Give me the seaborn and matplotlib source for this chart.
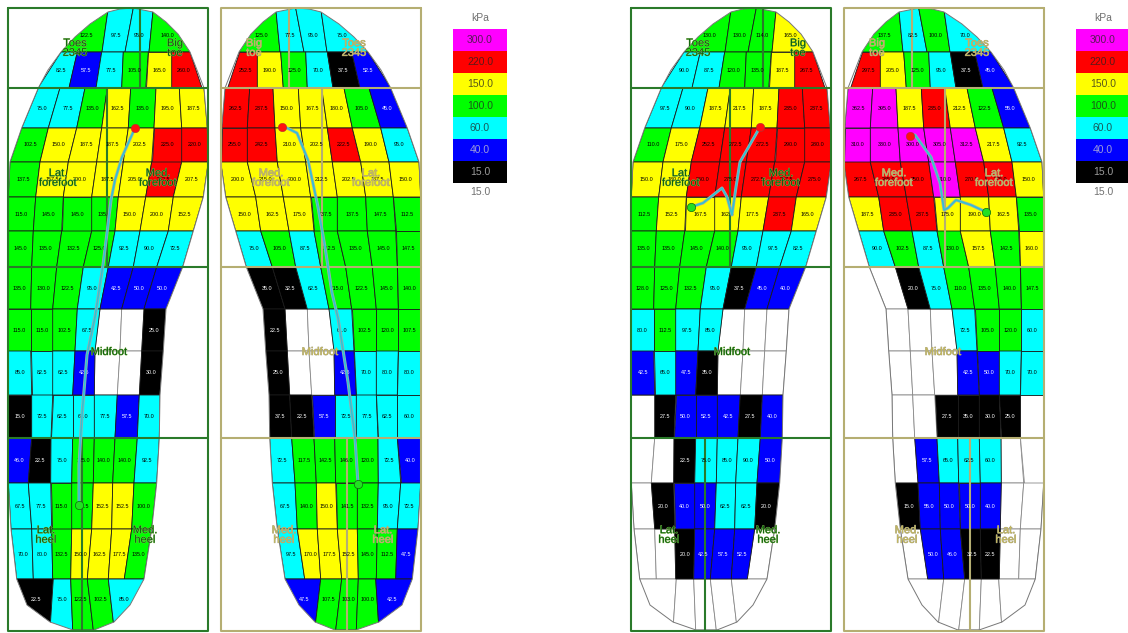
import numpy as np
import seaborn as sns
import matplotlib.pyplot as plt
import matplotlib.patheffects as pe
from matplotlib.colors import ListedColormap, BoundaryNorm
from matplotlib.patches import Polygon

nan = float('nan')

# pressure per sensor cell, top to bottom, left to right as seen in the picture
foot1_values = [
    [122.5, 97.5, 95.0, 140.0],
    [82.5, 57.5, 77.5, 105.0, 165.0, 260.0],
    [75.0, 77.5, 135.0, 162.5, 135.0, 195.0, 187.5],
    [102.5, 150.0, 187.5, 187.5, 202.5, 225.0, 220.0],
    [137.5, 157.5, 200.0, 187.5, 205.0, 232.5, 207.5],
    [115.0, 145.0, 145.0, 135.0, 150.0, 200.0, 152.5],
    [145.0, 135.0, 132.5, 125.0, 92.5, 90.0, 72.5],
    [135.0, 130.0, 122.5, 95.0, 42.5, 50.0, 50.0],
    [115.0, 115.0, 102.5, 67.5, nan, nan, 25.0],
    [85.0, 82.5, 62.5, 42.5, nan, nan, 30.0],
    [15.0, 72.5, 62.5, 61.0, 77.5, 57.5, 70.0],
    [46.0, 22.5, 75.0, 125.0, 140.0, 140.0, 92.5],
    [67.5, 77.5, 115.0, 122.5, 152.5, 152.5, 100.0],
    [70.0, 80.0, 132.5, 150.0, 162.5, 177.5, 135.0],
    [22.5, 75.0, 122.5, 102.5, 85.0],
]
foot2_values = [
    [125.0, 77.5, 95.0, 75.0],
    [252.5, 190.0, 125.0, 70.0, 37.5, 52.5],
    [262.5, 237.5, 150.0, 167.5, 180.0, 105.0, 45.0],
    [255.0, 242.5, 210.0, 202.5, 222.5, 190.0, 95.0],
    [200.0, 215.0, 200.0, 212.5, 202.5, 187.5, 150.0],
    [150.0, 162.5, 175.0, 137.5, 137.5, 147.5, 112.5],
    [75.0, 105.0, 87.5, 112.5, 135.0, 145.0, 147.5],
    [35.0, 32.5, 62.5, 115.0, 122.5, 145.0, 140.0],
    [22.5, nan, nan, 61.0, 102.5, 120.0, 107.5],
    [25.0, nan, nan, 42.5, 70.0, 80.0, 80.0],
    [37.5, 22.5, 57.5, 72.5, 77.5, 62.5, 60.0],
    [72.5, 117.5, 142.5, 146.0, 120.0, 72.5, 40.0],
    [67.5, 140.0, 150.0, 141.5, 132.5, 95.0, 72.5],
    [97.5, 170.0, 177.5, 152.5, 145.0, 112.5, 47.5],
    [47.5, 107.5, 103.0, 100.0, 42.5],
]
foot3_values = [
    [130.0, 130.0, 114.0, 165.0],
    [90.0, 87.5, 120.0, 135.0, 187.5, 267.5],
    [97.5, 90.0, 187.5, 217.5, 187.5, 235.0, 237.5],
    [110.0, 175.0, 252.5, 272.5, 272.5, 290.0, 280.0],
    [150.0, 180.0, 260.0, 275.0, 272.5, 257.5, 275.0],
    [112.5, 152.5, 167.5, 162.5, 177.5, 237.5, 165.0],
    [135.0, 135.0, 145.0, 140.0, 95.0, 97.5, 82.5],
    [128.0, 125.0, 132.5, 95.0, 37.5, 45.0, 40.0],
    [80.0, 112.5, 97.5, 85.0, nan, nan, nan],
    [42.5, 65.0, 47.5, 35.0, nan, nan, nan],
    [nan, 27.5, 50.0, 52.5, 42.5, 27.5, 40.0],
    [nan, nan, 22.5, 75.0, 85.0, 90.0, 50.0],
    [nan, 20.0, 40.0, 50.0, 62.5, 62.5, 20.0],
    [nan, nan, 20.0, 42.5, 57.5, 52.5, nan],
    [nan, nan, nan, nan, nan],
]
foot4_values = [
    [137.5, 82.5, 100.0, 70.0],
    [297.5, 205.0, 125.0, 95.0, 37.5, 45.0],
    [362.5, 395.0, 187.5, 235.0, 212.5, 122.5, 55.0],
    [310.0, 330.0, 300.0, 305.0, 312.5, 217.5, 92.5],
    [267.5, 285.0, 250.0, 310.0, 270.0, 275.0, 150.0],
    [187.5, 235.0, 237.5, 175.0, 190.0, 162.5, 135.0],
    [90.0, 102.5, 87.5, 130.0, 157.5, 142.5, 160.0],
    [nan, 20.0, 75.0, 110.0, 135.0, 140.0, 147.5],
    [nan, nan, nan, 72.5, 105.0, 120.0, 60.0],
    [nan, nan, nan, 42.5, 50.0, 70.0, 70.0],
    [nan, nan, 27.5, 35.0, 30.0, 25.0, nan],
    [nan, 57.5, 65.0, 62.5, 60.0, nan, nan],
    [15.0, 55.0, 50.0, 50.0, 40.0, nan, nan],
    [nan, 50.0, 46.0, 32.5, 22.5, nan, nan],
    [nan, nan, nan, nan, nan],
]

# centre of pressure paths, image pixels
cop1_x = [135, 122, 115, 111, 107, 103, 95, 87, 82, 79, 79]
cop1_y = [128, 157, 180, 200, 233, 265, 317, 355, 415, 465, 505]
cop2_x = [282, 287, 297, 308, 318, 325, 332, 338, 348, 355, 358]
cop2_y = [127, 128, 133, 160, 207, 247, 293, 318, 382, 438, 484]
cop3_x = [760, 740, 736, 732, 727, 722, 703, 691]
cop3_y = [127, 162, 187, 215, 197, 188, 203, 207]
cop4_x = [910, 915, 931, 940, 944, 948, 956, 971, 986]
cop4_y = [136, 135, 157, 183, 210, 208, 200, 205, 212]

legend_levels = [300.0, 220.0, 150.0, 100.0, 60.0, 40.0, 15.0]
level_bounds = [15, 40, 60, 100, 150, 220, 300, 1000]
level_colors = ['#000000', '#0000ff', '#00ffff', '#00ff00', '#ffff00', '#ff0000', '#ff00ff']

# insole mesh, drawn for the left panel and mirrored for the right one
row_y = [8, 52, 88, 128, 162, 197, 231, 267, 309, 351, 395, 438, 483, 529, 579, 630]
toe_top_edges = [82.3, 108.3, 133.3, 153.3, 174.3]
toe_mid_edges = [61, 102, 125, 149, 190]
toe2_top_edges = [61, 77.3, 101.7, 123.3, 148.3, 171.7, 190]
toe2_bot_edges = [38, 69, 96, 121.7, 145.7, 171.7, 202]
mesh_edges = [
    [38.3, 60, 85, 107.3, 130.7, 156, 179.3, 204],
    [21.7, 48.3, 76.7, 101.7, 128.3, 154, 181.7, 207.3],
    [10, 40, 68.3, 96.7, 123.3, 151.7, 181.7, 208.3],
    [8.3, 35.7, 63.3, 91.7, 118.3, 145.7, 173.3, 203.3],
    [8.3, 33.3, 61.7, 91.7, 115, 140, 168.3, 193.3],
    [8.3, 31.7, 56.7, 83.3, 108.3, 133.3, 156.7, 182.7],
    [8.3, 30.7, 52.7, 77.3, 100, 121.7, 144, 166],
    [8.3, 30.7, 52.7, 75, 95, 120, 141.7, 163.3],
    [8.3, 31.7, 52.7, 72.7, 94.3, 117.3, 139.3, 160],
    [8.3, 31.7, 51, 72.7, 94.3, 115, 137.3, 159.3],
    [8.3, 28.3, 50.7, 71.7, 93.3, 112.7, 134, 156.7],
    [11, 31.7, 51.7, 71.7, 91.7, 111.7, 131.7, 151.7],
    [16.7, 33.3, 52.7, 70.7, 87.3, 108.3, 124.3, 144],
]
heel_top_edges = [16.7, 53.3, 70.7, 87.3, 108.3, 144]
heel_bot_edges = [27, 50, 72.7, 93.3, 114.3, 130]
toe_arc_right = [(133, 8), (153, 12), (166, 22), (178, 34), (190, 52)]
toe_arc_left = [(48, 70), (61, 52), (75, 37), (90, 24), (108, 12), (120, 9)]
heel_arc = [(130, 605), (114, 622), (94, 630), (73, 630), (50, 622), (27, 605)]

region_labels = [
    ('Toes\n2345', 75, 48), ('Big\ntoe', 175, 48),
    ('Lat.\nforefoot', 58, 178), ('Med.\nforefoot', 158, 178),
    ('Midfoot', 109, 352),
    ('Lat.\nheel', 46, 535), ('Med.\nheel', 145, 535),
]
region_lines_h = [88, 267, 438]
region_lines_v = [(140, 8, 88), (107, 88, 267), (82, 438, 631)]

# one row is (top edges, bottom edges, where the label sits between them)
rows = [(toe_top_edges, toe_mid_edges, 0.63), (toe2_top_edges, toe2_bot_edges, 0.5)]
for top, bot in zip(mesh_edges[:-1], mesh_edges[1:]):
    rows.append((top, bot, 0.5))
rows.append((heel_top_edges, heel_bot_edges, 0.41))

side_y = row_y[2:15]
outline = toe_arc_right + [(e[-1], y) for e, y in zip(mesh_edges, side_y)] + heel_arc
outline = outline + [(e[0], y) for e, y in zip(mesh_edges[::-1], side_y[::-1])] + toe_arc_left

sns.set_theme(style='white')
plt.rcParams['font.family'] = ['Liberation Sans', 'DejaVu Sans']

cmap = ListedColormap(level_colors)
norm = BoundaryNorm(level_bounds, cmap.N)

fig = plt.figure(figsize=(11.28, 6.33), dpi=100)
ax = fig.add_axes([0, 0, 1, 1])
ax.set_xlim(0, 1128)
ax.set_ylim(633, 0)
ax.axis('off')


def draw_foot(values, offset, mirror, frame_color, text_color, halo_color):
    def px(x):
        return (429 - x if mirror else x) + offset

    clip = Polygon([(px(x), y) for x, y in outline], closed=True, transform=ax.transData,
                   fill=False, edgecolor='#777777', linewidth=0.7, zorder=3)
    ax.add_patch(clip)

    for r, (top, bot, frac) in enumerate(rows):
        y0, y1 = row_y[r], row_y[r + 1]
        row_top = [px(x) for x in top]
        row_bot = [px(x) for x in bot]
        if mirror:
            row_top = row_top[::-1]
            row_bot = row_bot[::-1]
        for c, v in enumerate(values[r]):
            corners = [(row_top[c], y0), (row_top[c + 1], y0), (row_bot[c + 1], y1), (row_bot[c], y1)]
            empty = np.isnan(v)
            face = 'white' if empty else cmap(norm(v))
            edge = '#888888' if empty else '#1a1a1a'
            cell = Polygon(corners, closed=True, facecolor=face, edgecolor=edge,
                           linewidth=0.6, zorder=1 if empty else 2)
            ax.add_patch(cell)
            cell.set_clip_path(clip)
            if not empty:
                tx = (row_top[c] + row_top[c + 1]) / 2 * (1 - frac) + (row_bot[c] + row_bot[c + 1]) / 2 * frac
                ty = y0 + (y1 - y0) * frac
                ax.text(tx, ty, f'{v:.1f}', ha='center', va='center', fontsize=3.9,
                        color='white' if v < 60 else 'black', zorder=6)

    # region frame
    left, right = px(8), px(208)
    ax.plot([left, right, right, left, left], [8, 8, 631, 631, 8], color=frame_color, lw=1.5, zorder=5)
    for y in region_lines_h:
        ax.plot([left, right], [y, y], color=frame_color, lw=1.5, zorder=5)
    for x, y0, y1 in region_lines_v:
        ax.plot([px(x), px(x)], [y0, y1], color=frame_color, lw=1.5, zorder=5)

    for label, x, y in region_labels:
        ax.text(px(x), y, label, ha='center', va='center', fontsize=8, linespacing=0.95,
                color=text_color, zorder=9,
                path_effects=[pe.withStroke(linewidth=0.5, foreground=halo_color)])


def draw_cop(x, y):
    sns.lineplot(x=x, y=y, sort=False, estimator=None, color='#a8a8a8', linewidth=2.2, ax=ax, zorder=7)
    sns.lineplot(x=x, y=y, sort=False, estimator=None, color='#2fc4d4', linewidth=1.2, ax=ax, zorder=7)
    sns.scatterplot(x=x[:1], y=y[:1], color='#ff1010', s=36, edgecolor='#b03030', linewidth=0.4, ax=ax, zorder=8)
    sns.scatterplot(x=x[-1:], y=y[-1:], color='#22e022', s=36, edgecolor='#0c6a0c', linewidth=0.5, ax=ax, zorder=8)


def draw_legend(left):
    lax = fig.add_axes([left / 1128, 1 - 183 / 633, 54 / 1128, 154 / 633])
    grid = np.array(legend_levels).reshape(-1, 1)
    labels = np.array([[f'{v:.1f}'] for v in legend_levels])
    sns.heatmap(grid, cmap=cmap, norm=norm, annot=labels, fmt='', cbar=False, ax=lax,
                xticklabels=False, yticklabels=False, annot_kws={'fontsize': 7.5})
    for txt, v in zip(lax.texts, legend_levels):
        txt.set_color('#cfcfcf' if v < 60 else '#222222')
        txt.set_alpha(0.75)
    ax.text(left + 27, 18, 'kPa', ha='center', va='center', fontsize=7.5, color='#707070')
    ax.text(left + 27, 192, '15.0', ha='center', va='center', fontsize=7.5, color='#707070')


green = '#2a7a2a'
khaki = '#b5ae72'
draw_foot(foot1_values, 0, False, green, '#0b5f0b', '#8fbf5a')
draw_foot(foot2_values, 0, True, khaki, '#c4b85c', '#a8a488')
draw_foot(foot3_values, 623, False, green, '#0b5f0b', '#8fbf5a')
draw_foot(foot4_values, 623, True, khaki, '#c4b85c', '#a8a488')

draw_cop(cop1_x, cop1_y)
draw_cop(cop2_x, cop2_y)
draw_cop(cop3_x, cop3_y)
draw_cop(cop4_x, cop4_y)

draw_legend(453)
draw_legend(1076)

fig.savefig('out.png', dpi=100)
